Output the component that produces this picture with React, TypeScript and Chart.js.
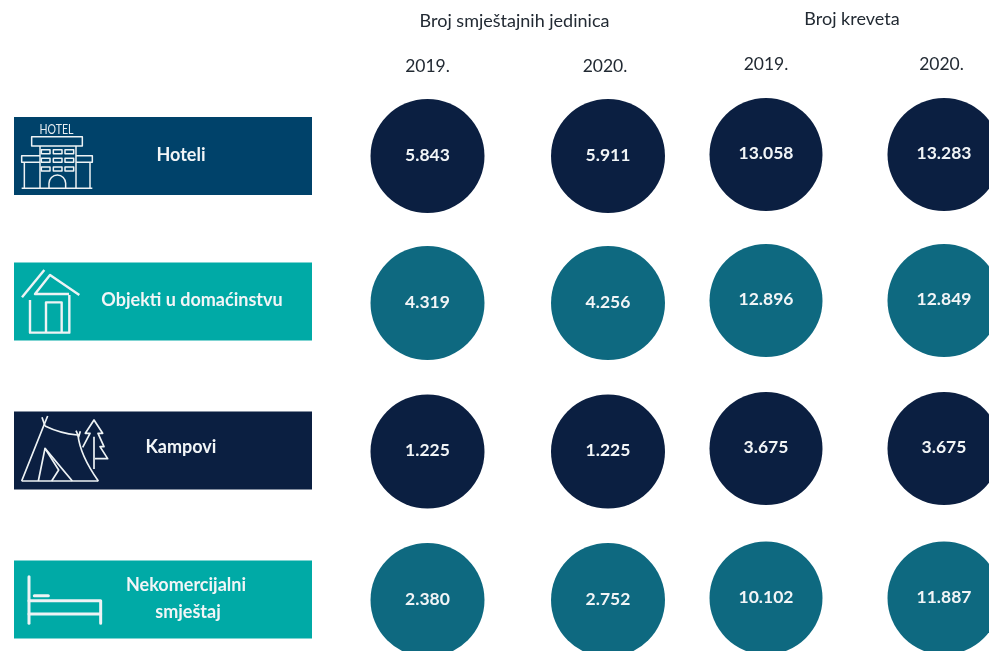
import React, { useEffect, useRef } from "react";
import { Chart, registerables } from "chart.js";

Chart.register(...registerables);

// ---- data ----
const categories = ["Hoteli", "Objekti u domaćinstvu", "Kampovi", "Nekomercijalni smještaj"];
const groupTitles = ["Broj smještajnih jedinica", "Broj kreveta"];
const yearLabels = ["2019.", "2020.", "2019.", "2020."];
const units2019 = [5843, 4319, 1225, 2380];
const units2020 = [5911, 4256, 1225, 2752];
const beds2019 = [13058, 12896, 3675, 10102];
const beds2020 = [13283, 12849, 3675, 11887];

// ---- layout and style ----
const W = 989;
const H = 651;
const FONT = "Lato, Carlito, sans-serif";
const NAVY = "#0b1f41";
const DEEP_TEAL = "#0e6980";
const BLUE = "#00426a";
const TEAL = "#00aaa6";
const INK = "#222a33";
const COL_X = [427.5, 608, 766, 944];
const ROW_Y = [
  [156, 303, 451.5, 600],
  [156, 303, 451.5, 600],
  [154.5, 300.5, 448.5, 598],
  [154.5, 300.5, 448.5, 598],
];
const RADII = [57, 57, 56.5, 56.5];
const BANNER_X = [14, 312];
const BANNER_Y = [156, 301.5, 450.5, 599.5];
const BANNER_H = 78;
const BANNER_COLORS = [BLUE, TEAL, NAVY, TEAL];
const CIRCLE_COLORS = [NAVY, DEEP_TEAL, NAVY, DEEP_TEAL];
const columns = [units2019, units2020, beds2019, beds2020];

const fmt = (n: number) => String(n).replace(/\B(?=(\d{3})+$)/g, ".");

type Pt = [number, number];

function poly(ctx: CanvasRenderingContext2D, ox: number, oy: number, pts: Pt[], close = false) {
  ctx.beginPath();
  pts.forEach(([x, y], i) => {
    const px = ox + x / 3;
    const py = oy + y / 3;
    if (i === 0) ctx.moveTo(px, py);
    else ctx.lineTo(px, py);
  });
  if (close) ctx.closePath();
  ctx.stroke();
}

function curve(ctx: CanvasRenderingContext2D, ox: number, oy: number, a: Pt, c: Pt, b: Pt) {
  ctx.beginPath();
  ctx.moveTo(ox + a[0] / 3, oy + a[1] / 3);
  ctx.quadraticCurveTo(ox + c[0] / 3, oy + c[1] / 3, ox + b[0] / 3, oy + b[1] / 3);
  ctx.stroke();
}

function drawHotel(ctx: CanvasRenderingContext2D) {
  const ox = 0, oy = 100;
  ctx.lineWidth = 1.5;
  ctx.save();
  ctx.translate(56.5, 129.5);
  ctx.scale(0.88, 1.15);
  ctx.font = `12px ${FONT}`;
  ctx.fillStyle = "#e8eef2";
  ctx.textAlign = "center";
  ctx.textBaseline = "middle";
  ctx.fillText("HOTEL", 0, 0);
  ctx.restore();
  poly(ctx, ox, oy, [[95, 110], [247, 110], [247, 138], [95, 138]], true);
  poly(ctx, ox, oy, [[120, 138], [120, 265]]);
  poly(ctx, ox, oy, [[228, 138], [228, 265]]);
  poly(ctx, ox, oy, [[120, 167], [65, 167], [65, 187], [120, 187]]);
  poly(ctx, ox, oy, [[228, 167], [277, 167], [277, 187], [228, 187]]);
  poly(ctx, ox, oy, [[73, 187], [73, 265]]);
  poly(ctx, ox, oy, [[270, 187], [270, 265]]);
  poly(ctx, ox, oy, [[65, 265], [277, 265]]);
  for (const wy of [149, 175, 201]) {
    for (const wx of [124, 160, 195]) {
      poly(ctx, ox, oy, [[wx, wy], [wx + 26, wy], [wx + 26, wy + 12], [wx, wy + 12]], true);
    }
  }
  ctx.beginPath();
  ctx.moveTo(ox + 147 / 3, oy + 265 / 3);
  ctx.lineTo(ox + 147 / 3, oy + 250 / 3);
  ctx.arc(ox + 172 / 3, oy + 250 / 3, 25 / 3, Math.PI, 0);
  ctx.lineTo(ox + 197 / 3, oy + 265 / 3);
  ctx.stroke();
}

function drawHouse(ctx: CanvasRenderingContext2D) {
  const ox = 0, oy = 100;
  ctx.lineWidth = 2.4;
  poly(ctx, ox, oy, [[66, 592], [133, 510]]);
  poly(ctx, ox, oy, [[238, 585], [150, 525], [105, 582], [207, 582]]);
  poly(ctx, ox, oy, [[90, 600], [90, 698], [208, 698], [208, 585]]);
  poly(ctx, ox, oy, [[138, 698], [138, 607], [185, 607], [185, 698]]);
}

function drawTent(ctx: CanvasRenderingContext2D) {
  const ox = 0, oy = 390;
  ctx.lineWidth = 1.7;
  poly(ctx, ox, oy, [[65, 273], [295, 273]]);
  poly(ctx, ox, oy, [[65, 273], [132, 105], [143, 78]]);
  poly(ctx, ox, oy, [[126, 82], [135, 108]]);
  curve(ctx, ox, oy, [135, 108], [180, 130], [232, 135]);
  poly(ctx, ox, oy, [[228, 122], [236, 140], [241, 124]]);
  curve(ctx, ox, oy, [234, 135], [240, 195], [295, 273]);
  poly(ctx, ox, oy, [[115, 273], [135, 175], [217, 273]]);
  poly(ctx, ox, oy, [[135, 175], [176, 240], [155, 273]]);
  poly(ctx, ox, oy, [[248, 172], [270, 130], [256, 130], [282, 90], [308, 130], [294, 130], [312, 170], [300, 170], [323, 206], [285, 206]]);
  poly(ctx, ox, oy, [[282, 140], [282, 237]]);
}

function drawBed(ctx: CanvasRenderingContext2D) {
  const ox = 0, oy = 390;
  ctx.lineWidth = 3;
  ctx.lineCap = "round";
  poly(ctx, ox, oy, [[87, 560], [87, 700]]);
  poly(ctx, ox, oy, [[87, 632], [302, 632], [302, 700]]);
  poly(ctx, ox, oy, [[87, 672], [302, 672]]);
  poly(ctx, ox, oy, [[103, 617], [145, 617]]);
}

const textPlugin = {
  id: "pageText",
  afterDatasetsDraw(chart: any) {
    const { ctx, scales } = chart;
    const X = (v: number) => scales.x.getPixelForValue(v);
    const Y = (v: number) => scales.y.getPixelForValue(v);
    const put = (t: string, x: number, y: number, font: string, color: string) => {
      ctx.font = font;
      ctx.fillStyle = color;
      ctx.fillText(t, X(x), Y(y));
    };
    ctx.save();
    ctx.textAlign = "center";
    ctx.textBaseline = "middle";

    const head = `400 18px ${FONT}`;
    put(groupTitles[0], 514.5, 21, head, INK);
    put(groupTitles[1], 852, 19.5, head, INK);
    const yearX = [427.5, 605, 766, 941.5];
    const yearY = [66, 66, 64, 64];
    const yearFont = `400 17.5px ${FONT}`;
    yearLabels.forEach((t, i) => put(t, yearX[i], yearY[i], yearFont, INK));

    const val = `700 17.5px ${FONT}`;
    columns.forEach((col, c) => {
      col.forEach((v, r) => put(fmt(v), COL_X[c], ROW_Y[c][r] - 1, val, "#f2f5f7"));
    });

    const lab = `700 18px ${FONT}`;
    put(categories[0], 181, 155, lab, "#f2f5f7");
    put(categories[1], 192, 300.5, lab, "#f2f5f7");
    put(categories[2], 181, 447, lab, "#f2f5f7");
    const parts = categories[3].split(" ");
    put(parts[0], 186, 585, lab, "#f2f5f7");
    put(parts[1], 188, 612, lab, "#f2f5f7");

    ctx.strokeStyle = "#eef3f5";
    ctx.lineJoin = "round";
    drawHotel(ctx);
    drawHouse(ctx);
    drawTent(ctx);
    drawBed(ctx);
    ctx.restore();
  },
};

export default function App() {
  const ref = useRef<HTMLCanvasElement | null>(null);
  useEffect(() => {
    if (!ref.current) return;
    const bannerSets = categories.map((name, i) => ({
      type: "line" as const,
      label: name,
      data: BANNER_X.map((x) => ({ x, y: BANNER_Y[i] })),
      borderColor: BANNER_COLORS[i],
      borderWidth: BANNER_H,
      borderCapStyle: "butt" as const,
      pointRadius: 0,
      tension: 0,
    }));
    const circleSets = columns.map((col, c) => ({
      type: "bubble" as const,
      label: `${groupTitles[c < 2 ? 0 : 1]} ${yearLabels[c]}`,
      data: col.map((_, r) => ({ x: COL_X[c], y: ROW_Y[c][r], r: RADII[c] })),
      backgroundColor: CIRCLE_COLORS,
      borderWidth: 0,
      hoverBorderWidth: 0,
      clip: false,
    }));
    const chart = new Chart(ref.current, {
      type: "bubble",
      data: { datasets: [...bannerSets, ...circleSets] as any },
      options: {
        responsive: false,
        animation: false,
        layout: { padding: 0, autoPadding: false },
        plugins: { legend: { display: false }, tooltip: { enabled: false }, title: { display: false } },
        scales: {
          x: { type: "linear", min: 0, max: W, display: false },
          y: { type: "linear", min: 0, max: H, reverse: true, display: false },
        },
      },
      plugins: [textPlugin],
    });
    return () => chart.destroy();
  }, []);
  return (
    <div style={{ position: "fixed", left: 0, top: 0, width: W, height: H, background: "#fff", overflow: "hidden" }}>
      <canvas ref={ref} width={W} height={H} style={{ display: "block", width: W, height: H }} />
    </div>
  );
}
